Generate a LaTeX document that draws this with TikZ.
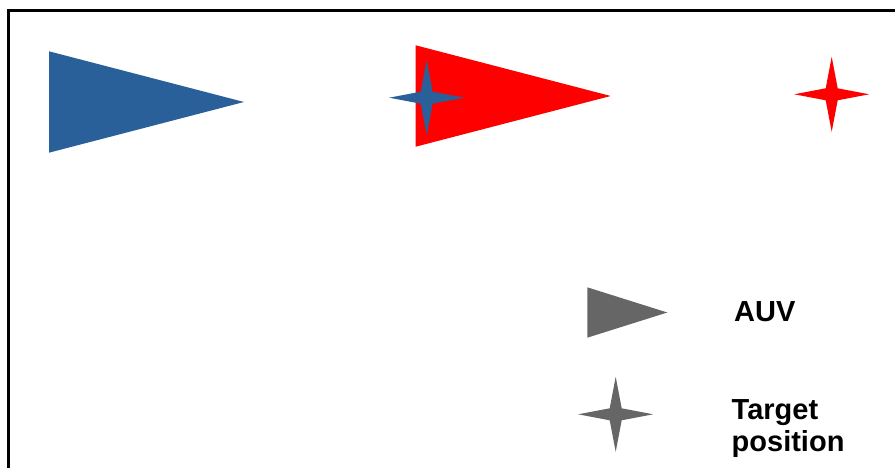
\documentclass[tikz,border=0pt]{standalone}
\usepackage{fontspec}
\setmainfont{Liberation Sans}
\definecolor{auvblue}{HTML}{2A6099}
\definecolor{legendgray}{HTML}{666666}
\tikzset{
  auv/.pic={\fill[pic actions] (0,-50.7) -- (0,50.7) -- (195,0) -- cycle;},
  legendauv/.pic={\fill[pic actions] (0,-25.2) -- (0,25.2) -- (80,0) -- cycle;},
  target/.pic={\fill[pic actions] (0,37.5) -- (6,6) -- (37.5,0) -- (6,-6) -- (0,-37.5) -- (-6,-6) -- (-37.5,0) -- (-6,6) -- cycle;},
  label/.style={inner sep=0pt,font=\fontsize{29}{31.5}\selectfont\bfseries,align=left}
}
\begin{document}
\begin{tikzpicture}[x=1pt,y=-1pt]
\useasboundingbox (0,0) rectangle (895,468);
\draw[line width=3.2pt] (8.6,468) -- (8.6,10.6) -- (895,10.6);
\pic[fill=auvblue] at (49,102) {auv};
\pic[fill=red] at (415.7,96) {auv};
\pic[fill=auvblue] at (426.7,97.7) {target};
\pic[fill=red] at (831.7,94.3) {target};
\pic[fill=legendgray] at (587.3,312.5) {legendauv};
\pic[fill=legendgray] at (615.7,414.3) {target};
\node[label,anchor=base west] (auvlabel) at (734,321) {AUV};
\node[label,anchor=north west] (targetlabel) at (731.5,399.5) {Target\\position};
\end{tikzpicture}
\end{document}
